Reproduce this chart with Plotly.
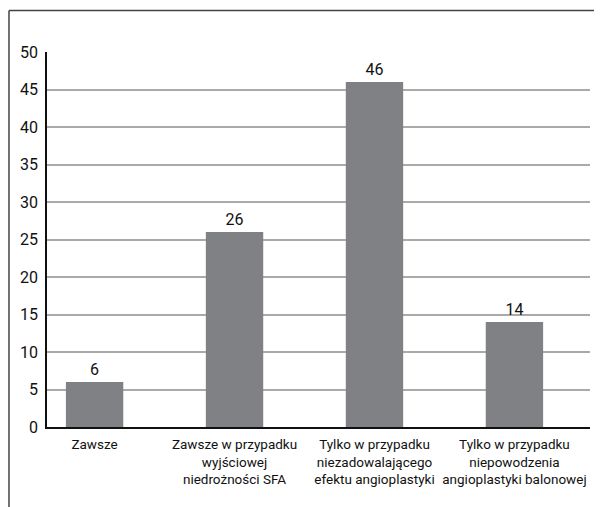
import plotly.graph_objects as go

categories = [
    "Zawsze",
    "Zawsze w przypadku<br>wyjściowej<br>niedrożności SFA",
    "Tylko w przypadku<br>niezadowalającego<br>efektu angioplastyki",
    "Tylko w przypadku<br>niepowodzenia<br>angioplastyki balonowej",
]
values = [6, 26, 46, 14]
y_ticks = [0, 5, 10, 15, 20, 25, 30, 35, 40, 45, 50]

FONT = "Roboto, Liberation Sans, sans-serif"

fig = go.Figure(
    go.Bar(
        x=categories,
        y=values,
        text=[str(v) for v in values],
        textposition="outside",
        textfont=dict(family=FONT, size=16, color="#111"),
        marker=dict(color="#808184", line=dict(width=0)),
        width=0.41,
        cliponaxis=False,
    )
)

# page body has an 8px margin; figure is sized/offset to compensate
fig.update_layout(
    width=594,
    height=499,
    margin=dict(l=39, r=12, t=44, b=80),
    paper_bgcolor="white",
    plot_bgcolor="white",
    showlegend=False,
    font=dict(family=FONT, color="#111"),
)
fig.update_xaxes(
    type="category",
    range=[-0.34, 3.54],
    showline=True,
    linecolor="#111",
    linewidth=1.5,
    ticks="",
    showgrid=False,
    ticklabelstandoff=4,
    tickfont=dict(family=FONT, size=13.5, color="#111"),
    tickangle=0,
)
fig.update_yaxes(
    range=[0, 50],
    tickvals=y_ticks,
    showline=True,
    linecolor="#111",
    linewidth=1.5,
    showgrid=True,
    gridcolor="#aaaaaa",
    gridwidth=1.5,
    zeroline=False,
    ticks="",
    ticklabelstandoff=4,
    tickfont=dict(family=FONT, size=16, color="#111"),
)

# partial frame around chart
fig.add_shape(type="line", xref="paper", yref="paper",
              x0=-0.07, x1=1.03, y0=1.111, y1=1.111,
              line=dict(color="#444", width=1.5))
fig.add_shape(type="line", xref="paper", yref="paper",
              x0=-0.07, x1=-0.07, y0=1.111, y1=-0.22,
              line=dict(color="#444", width=1.5))

fig.write_html("out.html")
